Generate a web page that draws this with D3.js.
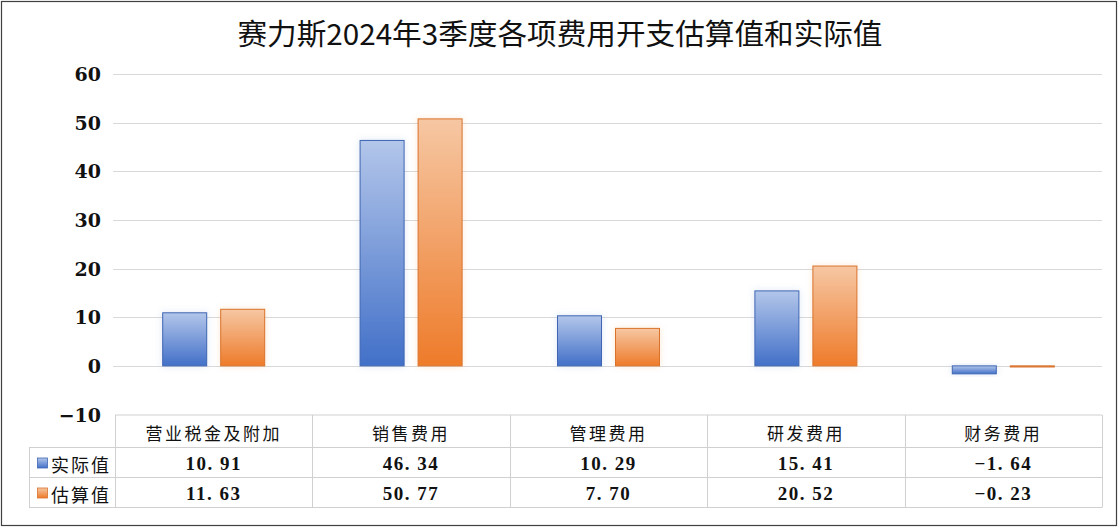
<!DOCTYPE html>
<html><head><meta charset="utf-8">
<script src="https://cdn.jsdelivr.net/npm/d3@7"></script>
<style>
html,body{margin:0;padding:0;background:#fff;}
svg{display:block;}
</style></head>
<body>
<script>
const title = "赛力斯2024年3季度各项费用开支估算值和实际值";
const categories = ["营业税金及附加","销售费用","管理费用","研发费用","财务费用"];
const seriesNames = ["实际值","估算值"];
const actualValues = [10.91, 46.34, 10.29, 15.41, -1.64];
const estimateValues = [11.63, 50.77, 7.70, 20.52, -0.23];
const yTicks = [-10,0,10,20,30,40,50,60];

const W = 1120, H = 528;
const svg = d3.select("body").append("svg").attr("width", W).attr("height", H);
const defs = svg.append("defs");
const colors = [
  {top:"#b3c6ea", bottom:"#4270c8", stroke:"#3f66b3", glow:"#4472c4"},
  {top:"#f6c7a3", bottom:"#ee7b2a", stroke:"#d9732c", glow:"#ed7d31"}
];
colors.forEach((c,i)=>{
  const g = defs.append("linearGradient").attr("id","grad"+i).attr("x1",0).attr("y1",0).attr("x2",0).attr("y2",1);
  g.append("stop").attr("offset","0%").attr("stop-color",c.top);
  g.append("stop").attr("offset","100%").attr("stop-color",c.bottom);
  const f = defs.append("filter").attr("id","glow"+i).attr("x","-30%").attr("y","-30%").attr("width","160%").attr("height","160%");
  f.append("feGaussianBlur").attr("in","SourceAlpha").attr("stdDeviation",3).attr("result","b");
  f.append("feFlood").attr("flood-color",c.glow).attr("flood-opacity",0.18);
  f.append("feComposite").attr("in2","b").attr("operator","in").attr("result","s");
  const m = f.append("feMerge");
  m.append("feMergeNode").attr("in","s");
  m.append("feMergeNode").attr("in","SourceGraphic");
});

// outer frame
svg.append("rect").attr("x",1.5).attr("y",1.5).attr("width",1115).attr("height",524)
  .attr("fill","#fff").attr("stroke","#404040").attr("stroke-width",1.2);

// title
svg.append("text").attr("x",560).attr("y",32).attr("text-anchor","middle")
  .attr("dominant-baseline","central")
  .attr("font-family","'Noto Sans CJK SC'").attr("font-size",29).attr("fill","#111")
  .attr("textLength",645).attr("lengthAdjust","spacingAndGlyphs")
  .text(title);

const left = 115, right = 1102;
const y = d3.scaleLinear().domain([-10,60]).range([414.5,74]);
const x0 = d3.scaleBand().domain(categories).range([left,right]).padding(0);
const groupW = 103;
const x1 = d3.scaleBand().domain(seriesNames).range([0,groupW]).paddingInner(13/58).paddingOuter(0);

// gridlines
svg.append("g").selectAll("line").data(yTicks.filter(t=>t>-10)).join("line")
  .attr("x1",113).attr("x2",right).attr("y1",d=>Math.round(y(d))+0.5).attr("y2",d=>Math.round(y(d))+0.5)
  .attr("stroke","#d9d9d9").attr("stroke-width",1);

// y axis labels
const yAxis = d3.axisLeft(y).tickValues(yTicks).tickSize(0).tickPadding(0)
  .tickFormat(d=> d<0 ? "\u2212"+Math.abs(d) : d);
const ga = svg.append("g").attr("transform","translate(101,0)").call(yAxis);
ga.select(".domain").remove();
ga.selectAll("text").attr("font-family","'DejaVu Serif'").attr("font-weight","bold")
  .attr("font-size",19).attr("fill","#111").attr("dy","0.35em");

// bars
const data = categories.map((c,i)=>({cat:c, vals:[actualValues[i], estimateValues[i]]}));
const groups = svg.append("g").selectAll("g").data(data).join("g")
  .attr("transform",d=>`translate(${x0(d.cat)+(x0.bandwidth()-groupW)/2},0)`);
groups.selectAll("rect").data(d=>d.vals.map((v,j)=>({v, s:seriesNames[j], j}))).join("rect")
  .attr("x",d=>x1(d.s)+0.5)
  .attr("y",d=>y(Math.max(0,d.v)))
  .attr("width",x1.bandwidth()-1)
  .attr("height",d=>Math.max(1, Math.abs(y(d.v)-y(0))))
  .attr("fill",d=>`url(#grad${d.j})`)
  .attr("stroke",d=>colors[d.j].stroke).attr("stroke-width",1)
  .attr("filter",d=>`url(#glow${d.j})`);

// data table
const rowTops = [415, 447.5, 477.5, 507.5];
const tbl = svg.append("g").attr("stroke","#d0d0d0").attr("stroke-width",1).attr("fill","none");
tbl.append("line").attr("x1",left).attr("x2",right).attr("y1",rowTops[0]).attr("y2",rowTops[0]);
[1,2,3].forEach(k=>{
  tbl.append("line").attr("x1",29).attr("x2",right).attr("y1",rowTops[k]).attr("y2",rowTops[k]);
});
tbl.append("line").attr("x1",29.5).attr("x2",29.5).attr("y1",rowTops[1]).attr("y2",rowTops[3]);
categories.forEach(c=>{
  const xx = Math.round(x0(c))+0.5;
  tbl.append("line").attr("x1",xx).attr("x2",xx).attr("y1",rowTops[0]).attr("y2",rowTops[3]);
});
tbl.append("line").attr("x1",right+0.5).attr("x2",right+0.5).attr("y1",rowTops[0]).attr("y2",rowTops[3]);

// header text
svg.append("g").selectAll("text").data(categories).join("text")
  .attr("x",d=>x0(d)+x0.bandwidth()/2).attr("y",(rowTops[0]+rowTops[1])/2+1)
  .attr("text-anchor","middle").attr("dominant-baseline","central")
  .attr("font-family","'Noto Sans CJK SC'").attr("font-size",17).attr("letter-spacing",2.5)
  .attr("fill","#111").text(d=>d);

// rows
const rowsVals = [actualValues, estimateValues];
rowsVals.forEach((vals,k)=>{
  const cy = (rowTops[k+1]+rowTops[k+2])/2+1;
  svg.append("rect").attr("x",37.5).attr("y",cy-5.5).attr("width",10).attr("height",10)
    .attr("fill",`url(#grad${k})`).attr("stroke",colors[k].stroke).attr("stroke-width",0.8);
  svg.append("text").attr("x",51).attr("y",cy).attr("dominant-baseline","central")
    .attr("font-family","'Noto Sans CJK SC'").attr("font-size",18).attr("letter-spacing",2)
    .attr("fill","#111").text(seriesNames[k]);
  svg.append("g").selectAll("text").data(vals.map((v,i)=>({v,c:categories[i]}))).join("text")
    .attr("x",d=>x0(d.c)+x0.bandwidth()/2).attr("y",cy)
    .attr("text-anchor","middle").attr("dominant-baseline","central")
    .attr("font-family","'Liberation Serif'").attr("font-weight","bold").attr("font-size",19)
    .attr("letter-spacing",1.5).attr("fill","#111")
    .text(d=>d.v.toFixed(2).replace("-", "\u2212").replace(".", ". "));
});
</script>
</body></html>
